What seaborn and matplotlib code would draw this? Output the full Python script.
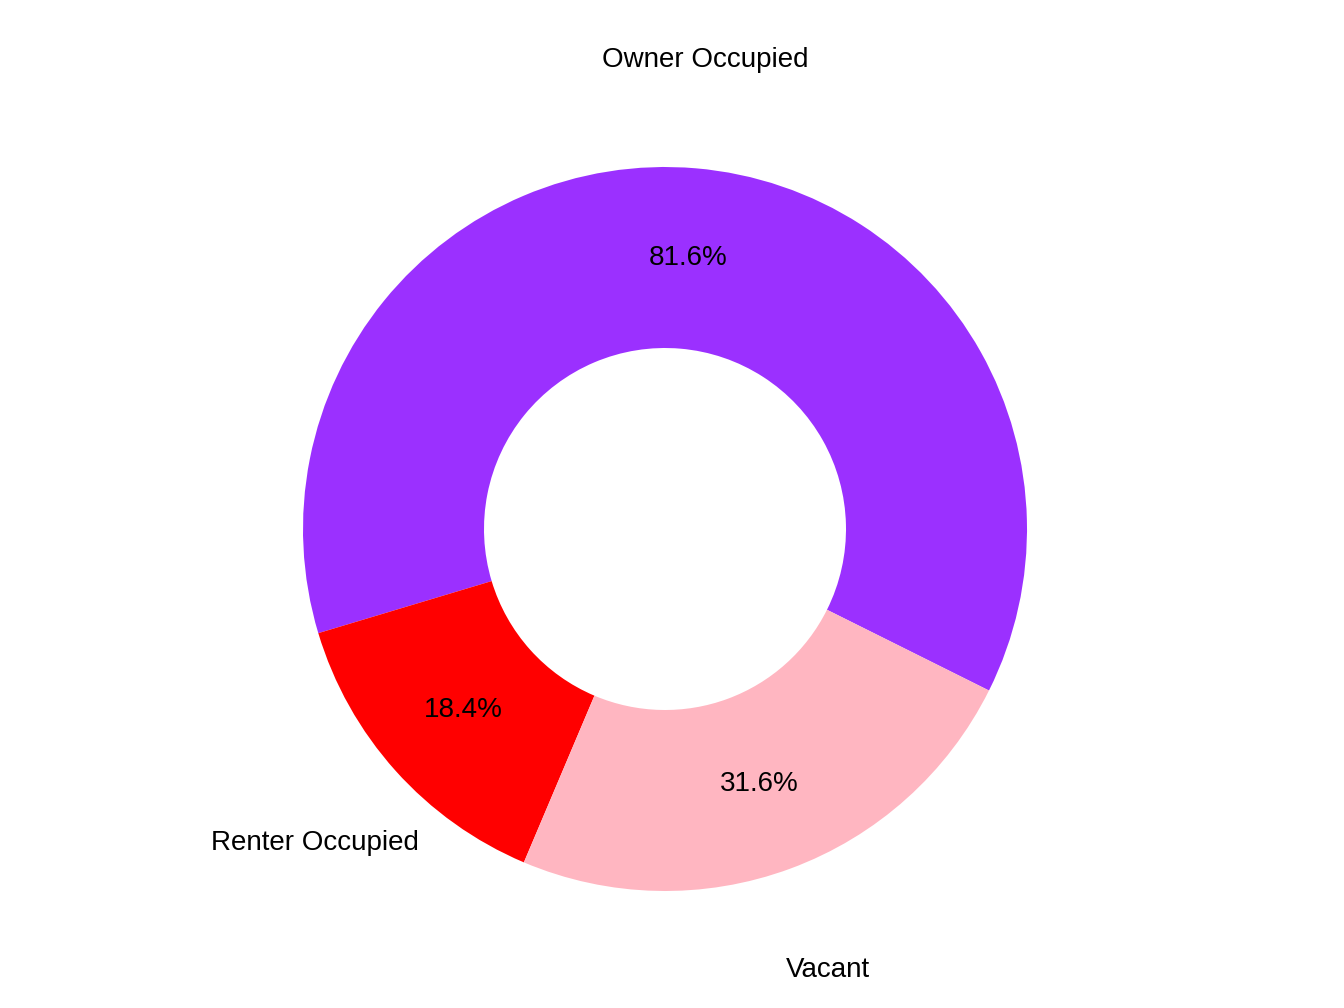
import matplotlib
matplotlib.use("Agg")
import matplotlib.pyplot as plt
import seaborn as sns

categories = ["Owner Occupied", "Renter Occupied", "Vacant"]
values = [81.6, 18.4, 31.6]
colors = ["#9B30FF", "#FF0000", "#FFB6C1"]

sns.set_style("white")
plt.rcParams["font.family"] = "Liberation Sans"

fig = plt.figure(figsize=(13.44, 10.08), dpi=100)
ax = fig.add_axes([0, 0, 1, 1])

wedges, texts, autotexts = ax.pie(
    values,
    labels=categories,
    colors=colors,
    startangle=-26.5,
    counterclock=True,
    radius=1.0,
    labeldistance=1.3,
    pctdistance=0.75,
    autopct=lambda p: f"{p * sum(values) / 100:.1f}%",
    wedgeprops=dict(width=0.5, edgecolor="none"),
    textprops=dict(fontsize=20, color="black"),
)
for t in texts:
    t.set_horizontalalignment("center")
    t.set_verticalalignment("center")

# center of donut at pixel (665, 529), outer radius 362 px
r = 362.0
cx, cy = 665.0, 529.0
ax.set_aspect("auto")
ax.set_xlim(-cx / r, (1344 - cx) / r)
ax.set_ylim(-(1008 - cy) / r, cy / r)
ax.axis("off")

fig.savefig("out.png", dpi=100)
